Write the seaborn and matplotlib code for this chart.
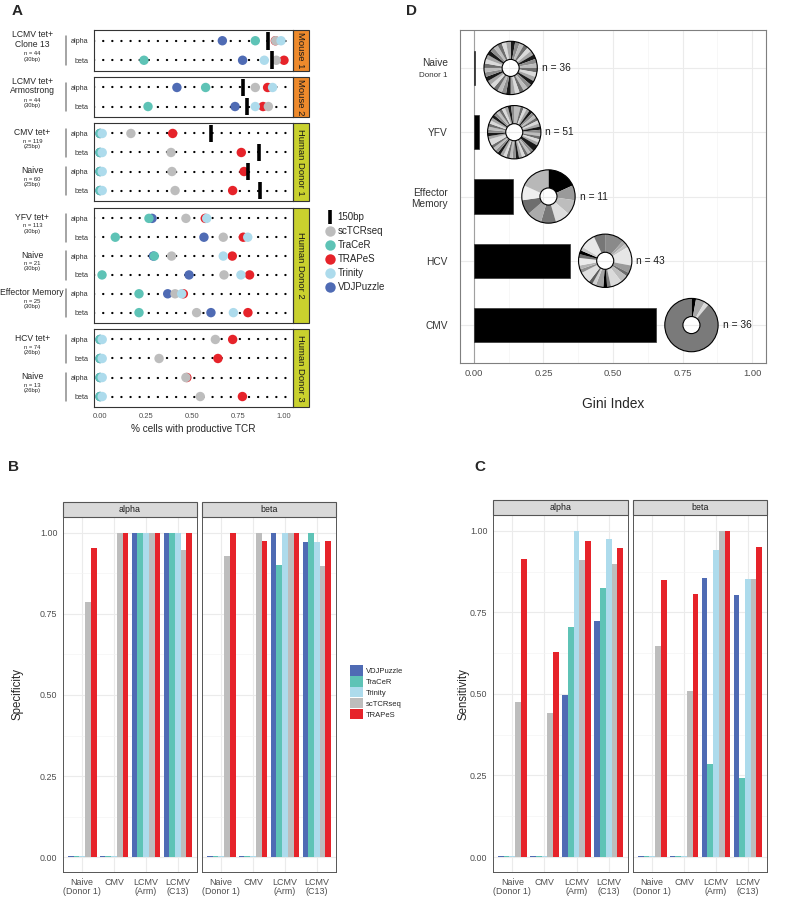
import pandas as pd
import matplotlib
matplotlib.use("Agg")
import matplotlib.pyplot as plt
import seaborn as sns
from matplotlib.lines import Line2D
from matplotlib.patches import Patch, Rectangle, Circle
from matplotlib.ticker import FixedLocator

# ---------------- Panel A: % cells with productive TCR ----------------
# rows: (LCMV C13 a/b, LCMV Arm a/b, CMV a/b, Naive D1 a/b, YFV a/b,
#        Naive D2 a/b, Eff. Memory a/b, HCV a/b, Naive D3 a/b)
row_chain = ["alpha", "beta"] * 9
vdjpuzzle_pct = [0.665, 0.775, 0.418, 0.734, 0.0, 0.0, 0.0, 0.0, 0.283,
                 0.565, 0.290, 0.484, 0.368, 0.603, 0.0, 0.0, 0.0, 0.0]
tracer_pct = [0.844, 0.239, 0.574, 0.261, 0.0, 0.0, 0.0, 0.0, 0.266,
              0.083, 0.295, 0.011, 0.212, 0.212, 0.0, 0.0, 0.0, 0.0]
trapes_pct = [0.953, 1.000, 0.911, 0.886, 0.395, 0.768, 0.783, 0.721, 0.572,
              0.779, 0.719, 0.813, 0.453, 0.804, 0.721, 0.641, 0.472, 0.774]
sctcrseq_pct = [0.955, 0.958, 0.844, 0.915, 0.168, 0.386, 0.391, 0.408, 0.467,
                0.670, 0.389, 0.674, 0.408, 0.525, 0.627, 0.321, 0.467, 0.545]
trinity_pct = [0.984, 0.893, 0.938, 0.844, 0.012, 0.012, 0.012, 0.012, 0.580,
               0.803, 0.670, 0.766, 0.444, 0.725, 0.012, 0.012, 0.012, 0.012]
bp150_rows = [0, 1, 2, 3, 4, 5, 6, 7]
bp150_pct = [0.911, 0.937, 0.775, 0.799, 0.601, 0.864, 0.804, 0.871]

group_names = ["LCMV tet+\nClone 13", "LCMV tet+\nArmostrong", "CMV tet+", "Naive",
               "YFV tet+", "Naive", "Effector Memory", "HCV tet+", "Naive"]
group_n = [44, 44, 119, 60, 113, 21, 25, 74, 13]
group_bp = [30, 30, 25, 25, 30, 30, 30, 26, 26]
facet_names = ["Mouse 1", "Mouse 2", "Human Donor 1", "Human Donor 2", "Human Donor 3"]
facet_groups = [1, 1, 2, 3, 2]

# ---------------- Panels B / C: specificity and sensitivity ----------------
samples = ["Naive\n(Donor 1)", "CMV", "LCMV\n(Arm)", "LCMV\n(C13)"]
bar_tools = ["VDJPuzzle", "TraCeR", "Trinity", "scTCRseq", "TRAPeS"]
specificity_alpha = [
    [0.004, 0.004, 1.000, 1.000],   # VDJPuzzle
    [0.004, 0.004, 1.000, 1.000],   # TraCeR
    [0.004, 0.004, 1.000, 1.000],   # Trinity
    [0.786, 1.000, 1.000, 0.947],   # scTCRseq
    [0.954, 1.000, 1.000, 1.000],   # TRAPeS
]
specificity_beta = [
    [0.004, 0.004, 1.000, 0.971],
    [0.004, 0.004, 0.900, 1.000],
    [0.004, 0.004, 1.000, 0.972],
    [0.929, 1.000, 1.000, 0.898],
    [1.000, 0.975, 1.000, 0.975],
]
sensitivity_alpha = [
    [0.004, 0.004, 0.498, 0.724],
    [0.004, 0.004, 0.704, 0.824],
    [0.004, 0.004, 1.000, 0.975],
    [0.476, 0.443, 0.911, 0.898],
    [0.913, 0.628, 0.969, 0.949],
]
sensitivity_beta = [
    [0.004, 0.004, 0.857, 0.803],
    [0.004, 0.004, 0.285, 0.243],
    [0.004, 0.004, 0.942, 0.853],
    [0.648, 0.510, 1.000, 0.853],
    [0.850, 0.808, 1.000, 0.950],
]

# ---------------- Panel D: Gini index ----------------
gini_labels = ["Naive", "YFV", "Effector\nMemory", "HCV", "CMV"]
gini_values = [0.005, 0.018, 0.141, 0.345, 0.655]
gini_n = [36, 51, 11, 43, 36]
naive_slices = [1, 1, 1, 1, 1, 1, 1, 1, 1, 1, 1, 1, 1, 1, 1, 1, 1, 1,
                1, 1, 1, 1, 1, 1, 1, 1, 1, 1, 1, 1, 1, 1, 1, 1, 1, 1]
yfv_slices = [2, 1, 1, 1, 1, 1, 1, 1, 1, 1, 1, 1, 1, 1, 1, 1, 2, 1, 1, 1, 1, 1, 1, 1,
              1, 1, 1, 1, 1, 1, 1, 1, 2, 1, 1, 1, 1, 1, 1, 1, 1, 1, 1, 1, 1, 1, 1, 1]
em_slices = [2, 1, 1, 1, 1, 1, 1, 1, 2]
hcv_slices = [5, 1, 1, 5, 2, 1, 2, 3, 1, 1, 2, 1, 1, 3, 1, 1, 2, 1, 1, 1, 4, 3]
cmv_slices = [1, 2, 1, 32]

# ---------------- style ----------------
sns.set_style("white")
plt.rcParams["font.family"] = ["Liberation Sans", "DejaVu Sans"]

W, H = 796, 909
pal_a = {"VDJPuzzle": "#4F6BB4", "TraCeR": "#5EC3B6", "TRAPeS": "#E6232A",
         "scTCRseq": "#BDBDBD", "Trinity": "#ADDBEC"}
tools_a = ["VDJPuzzle", "TraCeR", "TRAPeS", "scTCRseq", "Trinity"]
strip_cols = ["#EE8A2C", "#EE8A2C", "#C9D12E", "#C9D12E", "#C9D12E"]


def box(x0, y0, x1, y1):
    return [x0 / W, 1 - y1 / H, (x1 - x0) / W, (y1 - y0) / H]


fig = plt.figure(figsize=(W / 100, H / 100), dpi=100)

# ================= Panel A =================
pts = []
for tool, vals in zip(tools_a, [vdjpuzzle_pct, tracer_pct, trapes_pct, sctcrseq_pct, trinity_pct]):
    for r, v in enumerate(vals):
        pts.append((r, tool, v))
df_a = pd.DataFrame(pts, columns=["row", "tool", "value"])
df_bp = pd.DataFrame({"row": bp150_rows, "value": bp150_pct})

facet_px = [(30, 71), (77, 117), (123, 201), (208, 323), (329, 407)]
r0 = 0
g0 = 0
for i, (fname, ng) in enumerate(zip(facet_names, facet_groups)):
    r1 = r0 + 2 * ng
    top, bot = facet_px[i]
    ax = fig.add_axes(box(94, top, 293, bot))
    for r in range(r0, r1):
        ax.axhline(r, color="black", lw=1.6, ls=(0, (0.1, 4.0)),
                   dash_capstyle="round", zorder=1)
    sub = df_a[(df_a.row >= r0) & (df_a.row < r1)]
    sns.scatterplot(data=sub, x="value", y="row", hue="tool", palette=pal_a,
                    s=46, linewidth=0, legend=False, ax=ax, zorder=3)
    bsub = df_bp[(df_bp.row >= r0) & (df_bp.row < r1)]
    if len(bsub):
        ax.vlines(bsub.value, bsub.row - 0.45, bsub.row + 0.45,
                  color="black", lw=2.6, zorder=4)
    ax.set_xlim(-0.0326, 1.049)
    ax.set_ylim(r1 - 0.45, r0 - 0.55)
    ax.set_yticks(range(r0, r1))
    ax.set_yticklabels(row_chain[r0:r1])
    ax.tick_params(axis="y", length=2.5, width=0.8, labelsize=5.2, pad=1.5, colors="#333333")
    ax.set_xlabel("")
    ax.set_ylabel("")
    for s in ax.spines.values():
        s.set_color("#333333")
        s.set_linewidth(0.8)
    if i == len(facet_names) - 1:
        ax.set_xticks([0, 0.25, 0.5, 0.75, 1.0])
        ax.set_xticklabels(["0.00", "0.25", "0.50", "0.75", "1.00"])
        ax.tick_params(axis="x", length=2.5, width=0.8, labelsize=5.5, pad=1.5,
                       colors="#333333", labelcolor="#4D4D4D")
    else:
        ax.tick_params(axis="x", bottom=False, labelbottom=False)

    # facet strip
    ax.add_patch(Rectangle((1.0, 0), 16 / 199, 1, transform=ax.transAxes,
                           facecolor=strip_cols[i], edgecolor="#333333", lw=0.8, clip_on=False))
    ax.text(1.0 + 8 / 199, 0.5, fname, transform=ax.transAxes, rotation=-90,
            ha="center", va="center", fontsize=6.8, color="#1A1A1A")

    # group labels and brackets
    for k in range(ng):
        g = g0 + k
        r = r0 + 2 * k
        trans = ax.get_yaxis_transform()
        m = group_names[g].count("\n") + 1
        total = 7.6 * m + 10.0
        top_off = total / 2 + 2
        ax.annotate(group_names[g], xy=(-0.31, r + 0.5), xycoords=trans,
                    xytext=(0, top_off), textcoords="offset points",
                    ha="center", va="top", fontsize=6.2, linespacing=1.05, annotation_clip=False)
        ax.annotate(f"n = {group_n[g]}\n({group_bp[g]}bp)", xy=(-0.31, r + 0.5), xycoords=trans,
                    xytext=(0, top_off - 7.6 * m), textcoords="offset points",
                    ha="center", va="top", fontsize=4.2, linespacing=1.1, annotation_clip=False)
        ax.plot([-0.141, -0.141], [r - 0.25, r + 1.25], transform=trans,
                color="#8C8C8C", lw=1.1, clip_on=False)
    r0 = r1
    g0 += ng

fig.text(193 / W, 1 - 429 / H, "% cells with productive TCR", ha="center",
         va="center", fontsize=7.2)

leg_a = [Line2D([], [], marker="|", color="black", ls="", markersize=10, mew=2.6)]
leg_a += [Line2D([], [], marker="o", color=pal_a[t], ls="", markersize=7.5, mew=0)
          for t in ["scTCRseq", "TraCeR", "TRAPeS", "Trinity", "VDJPuzzle"]]
fig.legend(leg_a, ["150bp", "scTCRseq", "TraCeR", "TRAPeS", "Trinity", "VDJPuzzle"],
           loc="upper left", bbox_to_anchor=(325 / W, 1 - 212 / H), frameon=False,
           fontsize=7, handlelength=1.0, handletextpad=0.3, labelspacing=0.42,
           borderaxespad=0, borderpad=0)

# ================= Panels B and C =================
pal_b = {"VDJPuzzle": "#4F6BB4", "TraCeR": "#5EC3B6", "Trinity": "#ADDBEC",
         "scTCRseq": "#BDBDBD", "TRAPeS": "#E6232A"}


def bar_facet(ax, table, chain, show_y, ax_h):
    rows = []
    for tool, vals in zip(bar_tools, table):
        for smp, v in zip(samples, vals):
            rows.append((smp, tool, v))
    d = pd.DataFrame(rows, columns=["sample", "tool", "value"])
    sns.barplot(data=d, x="sample", y="value", hue="tool", order=samples,
                hue_order=bar_tools, palette=pal_b, errorbar=None, width=0.9,
                saturation=1, linewidth=0, legend=False, ax=ax, zorder=2)
    ax.set_xlim(-0.6, 3.6)
    ax.set_ylim(-0.046, 1.049)
    ax.set_yticks([0, 0.25, 0.5, 0.75, 1.0])
    ax.set_yticklabels(["0.00", "0.25", "0.50", "0.75", "1.00"])
    ax.yaxis.set_minor_locator(FixedLocator([0.125, 0.375, 0.625, 0.875]))
    ax.grid(which="major", color="#EBEBEB", lw=0.8)
    ax.grid(which="minor", axis="y", color="#F3F3F3", lw=0.45)
    ax.set_axisbelow(True)
    ax.set_xlabel("")
    ax.set_ylabel("")
    ax.set_xticks(range(len(samples)))
    ax.set_xticklabels(samples, linespacing=1.1)
    ax.tick_params(axis="both", which="major", length=2.5, width=0.7, labelsize=6.4,
                   colors="#333333", labelcolor="#4D4D4D", pad=1.5)
    ax.tick_params(axis="y", which="minor", length=0)
    if not show_y:
        ax.tick_params(axis="y", left=False, labelleft=False)
    for s in ax.spines.values():
        s.set_color("#555555")
        s.set_linewidth(0.7)
    h = 15 / ax_h
    ax.add_patch(Rectangle((0, 1), 1, h, transform=ax.transAxes, facecolor="#D9D9D9",
                           edgecolor="#555555", lw=0.8, clip_on=False))
    ax.text(0.5, 1 + h / 2, chain, transform=ax.transAxes, ha="center", va="center",
            fontsize=6.4, color="#1A1A1A")


axb1 = fig.add_axes(box(63, 517, 197, 872))
axb2 = fig.add_axes(box(202, 517, 336, 872))
bar_facet(axb1, specificity_alpha, "alpha", True, 355)
bar_facet(axb2, specificity_beta, "beta", False, 355)
fig.text(18 / W, 1 - 694 / H, "Specificity", rotation=90, ha="center", va="center", fontsize=8.3)

axc1 = fig.add_axes(box(493, 515, 628, 872))
axc2 = fig.add_axes(box(633, 515, 767, 872))
bar_facet(axc1, sensitivity_alpha, "alpha", True, 357)
bar_facet(axc2, sensitivity_beta, "beta", False, 357)
fig.text(463 / W, 1 - 694 / H, "Sensitivity", rotation=90, ha="center", va="center", fontsize=8.3)

leg_b = [Patch(facecolor=pal_b[t], edgecolor="none") for t in bar_tools]
fig.legend(leg_b, bar_tools, loc="upper left", bbox_to_anchor=(350 / W, 1 - 665 / H),
           frameon=False, fontsize=5.5, handlelength=1.75, handleheight=1.75,
           labelspacing=0.05, handletextpad=0.35, borderaxespad=0, borderpad=0)

# ================= Panel D =================
axd = fig.add_axes(box(460, 30, 766, 363))
sns.barplot(x=gini_values, y=gini_labels, orient="h", color="black", width=0.53,
            saturation=1, edgecolor="#333333", linewidth=0.5, ax=axd, zorder=3)
axd.set_xlim(-0.05, 1.05)
axd.set_ylim(4.59, -0.59)
axd.set_xticks([0, 0.25, 0.5, 0.75, 1.0])
axd.set_xticklabels(["0.00", "0.25", "0.50", "0.75", "1.00"])
axd.xaxis.set_minor_locator(FixedLocator([0.125, 0.375, 0.625, 0.875]))
axd.set_yticks(range(len(gini_labels)))
axd.set_yticklabels([""] + gini_labels[1:], linespacing=1.15)
axd.grid(which="major", color="#EBEBEB", lw=0.8)
axd.grid(which="minor", axis="x", color="#F3F3F3", lw=0.45)
axd.set_axisbelow(True)
axd.axvline(0, color="#A0A0A0", lw=0.8, zorder=2)
axd.tick_params(axis="x", which="major", length=2.5, width=0.7, labelsize=6.8,
                colors="#555555", labelcolor="#4D4D4D", pad=2)
axd.tick_params(axis="x", which="minor", length=0)
axd.tick_params(axis="y", length=2.7, width=0.7, labelsize=7.3, colors="#555555",
                labelcolor="#333333", pad=6)
axd.set_xlabel("")
axd.set_ylabel("")
for s in axd.spines.values():
    s.set_color("#7F7F7F")
    s.set_linewidth(0.8)
ytr = axd.get_yaxis_transform()
axd.text(-12 / 306, -0.08, "Naive", transform=ytr, ha="right", va="center",
         fontsize=7.3, color="#333333")
axd.text(-12 / 306, 0.12, "Donor 1", transform=ytr, ha="right", va="center",
         fontsize=5.8, color="#333333")
fig.text(613 / W, 1 - 404 / H, "Gini Index", ha="center", va="center", fontsize=9.9)

grey_cycle = ["#1A1A1A", "#8C8C8C", "#BDBDBD", "#6E6E6E", "#DADADA", "#A6A6A6"]
donut_slices = [naive_slices, yfv_slices, em_slices, hcv_slices, cmv_slices]
donut_shades = [
    [grey_cycle[k % 6] for k in range(len(naive_slices))],
    [grey_cycle[(k + 2) % 6] for k in range(len(yfv_slices))],
    ["#000000", "#9A9A9A", "#BDBDBD", "#DDDDDD", "#777777", "#ABABAB",
     "#6E6E6E", "#EEEEEE", "#B8B8B8"],
    ["#8A8A8A", "#A8A8A8", "#C4C4C4", "#E6E6E6", "#9A9A9A", "#6E6E6E", "#BDBDBD",
     "#DADADA", "#7F7F7F", "#000000", "#A3A3A3", "#CFCFCF", "#5E5E5E", "#E0E0E0",
     "#909090", "#B5B5B5", "#EBEBEB", "#707070", "#000000", "#C8C8C8", "#E8E8E8",
     "#777777"],
    ["#000000", "#A8A8A8", "#D9D9D9", "#7A7A7A"],
]
inv = fig.transFigure.inverted()
for i, (g, n) in enumerate(zip(gini_values, gini_n)):
    cx = g + 0.127
    fx, fy = inv.transform(axd.transData.transform((cx, i)))
    rw, rh = 28 / W, 28 / H
    pa = fig.add_axes([fx - rw, fy - rh, 2 * rw, 2 * rh])
    pa.pie(donut_slices[i], colors=donut_shades[i], startangle=90, counterclock=False,
           radius=1, wedgeprops=dict(width=0.68, edgecolor="none"))
    pa.add_patch(Circle((0, 0), 1, fill=False, ec="black", lw=0.8))
    pa.add_patch(Circle((0, 0), 0.32, fill=False, ec="black", lw=0.8))
    pa.set_xlim(-1.05, 1.05)
    pa.set_ylim(-1.05, 1.05)
    pa.set_aspect("equal")
    pa.axis("off")
    axd.text(cx + 0.112, i, f"n = {n}", ha="left", va="center", fontsize=7.3,
             color="#1A1A1A", zorder=5)

# panel letters
for lab, x, y in [("A", 17, 11), ("D", 411, 11), ("B", 13, 467), ("C", 480, 467)]:
    fig.text(x / W, 1 - y / H, lab, ha="center", va="center", fontsize=11, fontweight="bold")

fig.savefig("out.png", dpi=100)
